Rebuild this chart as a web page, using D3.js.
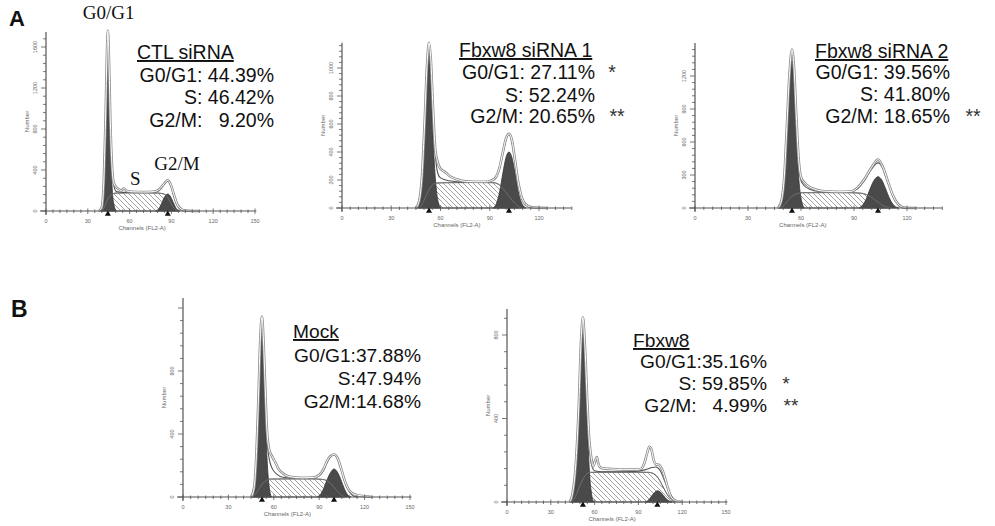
<!DOCTYPE html>
<html>
<head>
<meta charset="utf-8">
<script src="https://cdn.jsdelivr.net/npm/d3@7"></script>
<style>
    body { margin: 0; background: #fff; }
    svg { display: block; }
    .stat { font-family: "Liberation Sans", Arial, sans-serif; fill: #111; white-space: pre; }
    .title { text-decoration: underline; }
    .phase { font-family: "Liberation Serif", "Times New Roman", serif; fill: #111; }
    .tickLabel { font-family: "Liberation Sans", Arial, sans-serif; font-size: 5.5px; fill: #666; }
    .panelLetter { font-family: "Liberation Sans", Arial, sans-serif; font-weight: bold; fill: #111; }
</style>
</head>
<body>
<div id="svg-container"></div>
<script>
//--------------------------------------------------
// data (channel, count)
//--------------------------------------------------

// A - CTL siRNA
const ctlG1 = [[38,0],[40,30],[41.5,250],[42.7,750],[43.6,1300],[44.4,1700],[45.2,1300],[46.1,750],[47.2,300],[48.5,80],[50.5,0]];
const ctlS = [[40,0],[42,40],[44,105],[46,150],[48,168],[50,175],[60,177],[70,177],[80,175],[84,168],[87,140],[89,95],[91,45],[93,12],[95,0]];
const ctlG2 = [[79,0],[81,22],[83,75],[85,135],[87.4,166],[89.6,135],[91.6,75],[93.6,22],[96,0]];
const ctlFit = [[38,0],[40,30],[41.5,290],[42.7,850],[43.6,1410],[44.4,1720],[45.2,1440],[46.1,900],[47.2,460],[48.5,260],[50.5,190],[55,182],[65,180],[75,180],[80,188],[83,225],[85,265],[87.4,290],[89.6,245],[91.6,150],[93.6,70],[96,18],[99,0]];
const ctlRaw = [[38,0],[40,35],[41.5,300],[42.7,870],[43.6,1450],[44.4,1760],[45.2,1470],[46.1,920],[47.2,480],[48.5,280],[50,240],[52,215],[54,200],[56,220],[58,195],[62,188],[70,185],[78,190],[82,220],[85,270],[87.4,300],[88.5,285],[90,240],[92,150],[94,70],[97,20],[100,5],[110,0]];
const ctlPeaks = [44.4, 87.4];
const ctlText = ["CTL siRNA", "G0/G1: 44.39%", "S: 46.42%", "G2/M:   9.20%"];
const ctlStars = ["", "", ""];

// A - Fbxw8 siRNA 1
const si1G1 = [[45,0],[47,40],[48.8,200],[50.3,500],[51.8,880],[53,1120],[54.1,900],[55.4,520],[56.8,220],[58.3,60],[60,0]];
const si1S = [[47,0],[49,30],[51,80],[53,130],[55,163],[57,178],[65,181],[80,182],[92,181],[95,172],[98,140],[101,95],[104,50],[107,15],[109,0]];
const si1G2 = [[92,0],[94,30],[96,115],[98,250],[100,365],[101.7,400],[103.4,365],[105.4,250],[107.4,115],[109.4,35],[112,0]];
const si1Fit = [[45,0],[47,45],[48.8,225],[50.3,570],[51.8,1000],[53,1160],[54.1,1040],[55.4,690],[56.8,390],[58.3,250],[60,215],[65,195],[75,185],[88,185],[93,205],[96,285],[98,390],[100,490],[101.7,525],[103.4,480],[105.4,330],[107.4,170],[109.4,70],[112,20],[115,0]];
const si1Raw = [[45,0],[47,50],[48.8,240],[50.3,600],[51.8,1020],[53,1180],[54.1,1060],[55.4,720],[56.8,420],[58,340],[60,280],[63,255],[66,225],[70,205],[75,190],[80,188],[88,188],[93,210],[96,290],[98,400],[100,500],[101.7,530],[103.4,490],[105.4,340],[107.4,180],[109.4,80],[112,25],[116,5],[125,0]];
const si1Peaks = [53, 101.7];
const si1Text = ["Fbxw8 siRNA 1", "G0/G1: 27.11%", "S: 52.24%", "G2/M: 20.65%"];
const si1Stars = ["*", "", "**"];

// A - Fbxw8 siRNA 2
const si2G1 = [[47,0],[49,60],[50.6,260],[52,650],[53.5,1100],[54.9,1340],[56.1,1120],[57.3,700],[58.6,300],[60,90],[61.8,0]];
const si2S = [[48,0],[50,20],[52,55],[54,92],[56,118],[58,132],[61,139],[75,140],[88,139],[93,136],[97,122],[100,95],[103,60],[106,25],[109,5],[111,0]];
const si2G2 = [[93,0],[95,30],[97,85],[99,170],[101.5,255],[103.6,285],[105.7,255],[108,170],[110,90],[112,35],[115,0]];
const si2Fit = [[47,0],[49,65],[50.6,290],[52,720],[53.5,1190],[54.9,1400],[56.1,1230],[57.3,820],[58.6,430],[60,250],[62,200],[65,170],[70,150],[80,142],[88,145],[92,175],[96,250],[100,355],[103.6,410],[106,370],[109,240],[112,110],[115,30],[118,0]];
const si2Raw = [[47,0],[49,70],[50.6,300],[52,740],[53.5,1220],[54.9,1440],[56.1,1260],[57.3,850],[58.6,460],[60,280],[62,230],[64,200],[67,175],[72,155],[80,148],[88,150],[92,185],[96,265],[100,370],[103.6,440],[106,385],[109,250],[112,115],[115,35],[118,5],[125,0]];
const si2Peaks = [54.9, 103.6];
const si2Text = ["Fbxw8 siRNA 2", "G0/G1: 39.56%", "S: 41.80%", "G2/M: 18.65%"];
const si2Stars = ["", "", "**"];

// B - Mock
const mockG1 = [[45,0],[47,50],[48.5,230],[49.9,560],[51.1,900],[52.2,1050],[53.2,880],[54.3,560],[55.5,250],[57,60],[58.5,0]];
const mockS = [[46,0],[48,20],[50,48],[52,78],[54,98],[56,110],[58,114],[70,115],[85,115],[92,112],[95,104],[98,82],[101,48],[104,18],[107,0]];
const mockG2 = [[89,0],[91,18],[93,55],[95,105],[97.5,155],[99.8,178],[102,158],[104.5,105],[106.5,55],[108.5,18],[111,0]];
const mockFit = [[45,0],[47,55],[48.5,260],[49.9,620],[51.1,980],[52.2,1110],[53.2,960],[54.3,660],[55.5,370],[57,240],[59,180],[62,145],[66,125],[75,118],[85,118],[90,135],[93,170],[95,215],[97.5,255],[99.8,268],[102,245],[104.5,175],[107,95],[110,30],[113,5],[116,0]];
const mockRaw = [[45,0],[47,60],[48.5,270],[49.9,640],[51.1,1010],[52.2,1145],[53.2,990],[54.3,700],[55.5,420],[57,300],[59,255],[61,220],[63,180],[66,150],[70,130],[78,122],[86,124],[90,140],[93,180],[95,225],[97.5,260],[99.8,270],[102,250],[104.5,180],[107,100],[110,40],[114,15],[120,5],[125,0]];
const mockPeaks = [52.2, 99.8];
const mockText = ["Mock", "G0/G1:37.88%", "S:47.94%", "G2/M:14.68%"];
const mockStars = ["", "", ""];

// B - Fbxw8
const fbxG1 = [[43,0],[45,35],[47,140],[49,380],[50.8,700],[52,850],[53.2,700],[55,370],[56.5,140],[58,35],[59.5,0]];
const fbxS = [[44,0],[46,15],[48,45],[50,80],[52,110],[54,130],[57,142],[70,143],[85,143],[97,142],[100,137],[103,120],[106,85],[109,45],[112,15],[115,0]];
const fbxG2 = [[95,0],[97,10],[99,28],[101,45],[103,54],[105,48],[107,32],[109,16],[111,5],[113,0]];
const fbxFit = [[43,0],[45,40],[47,160],[49,420],[50.8,760],[52,880],[53.2,760],[55,460],[56.5,260],[58,175],[60,150],[65,145],[80,145],[90,148],[95,155],[99,165],[102,168],[105,150],[108,100],[111,50],[114,15],[117,0]];
const fbxRaw = [[43,0],[45,45],[47,170],[49,430],[50.8,780],[52,885],[53.2,770],[55,480],[56.3,300],[57,250],[58,200],[59,170],[60.5,200],[61.5,215],[62.5,185],[64,165],[67,160],[72,158],[80,155],[88,155],[92,160],[94,185],[96,235],[97.5,265],[99,250],[100.5,200],[102,180],[104,178],[106,160],[108,120],[110,70],[112,30],[115,8],[120,0]];
const fbxPeaks = [52, 103];
const fbxText = ["Fbxw8", "G0/G1:35.16%", "S: 59.85%", "G2/M:   4.99%"];
const fbxStars = ["", "*", "**"];

// tick labels
const xTicks150 = [0, 30, 60, 90, 120, 150];
const xTicks120 = [0, 30, 60, 90, 120];
const yTicksCtl = [0, 400, 800, 1200, 1600];
const yTicksSi1 = [0, 200, 400, 600, 800, 1000];
const yTicksSi2 = [0, 300, 600, 900, 1200];
const yTicksB = [0, 400, 800];

// phase names written over the CTL histogram: [label, channel, count]
const phaseLabels = [["G0/G1", 45, 1870], ["S", 64, 255], ["G2/M", 94, 400]];


//--------------------------------------------------
// panel layout
//--------------------------------------------------

const panels = [
    { g1: ctlG1, s: ctlS, g2: ctlG2, fit: ctlFit, raw: ctlRaw, peaks: ctlPeaks, text: ctlText, stars: ctlStars,
      xPx: [46, 255], xDom: [0, 150], xEnd: 151, xTicks: xTicks150, chanAt: 69,
      yPx: [211, 47], yDom: [0, 1600], yTop: 1746, yTicks: yTicksCtl,
      tx: 137, rx: 274, ty: [59, 82, 104, 127], fs: 19.5, starX: [0, 0, 0] },
    { g1: si1G1, s: si1S, g2: si1G2, fit: si1Fit, raw: si1Raw, peaks: si1Peaks, text: si1Text, stars: si1Stars,
      xPx: [342, 539], xDom: [0, 120], xEnd: 140, xTicks: xTicks120, chanAt: 70,
      yPx: [208, 68], yDom: [0, 1000], yTop: 1180, yTicks: yTicksSi1,
      tx: 459, rx: 595, ty: [57, 79, 102, 123], fs: 19.5, starX: [612, 0, 617] },
    { g1: si2G1, s: si2S, g2: si2G2, fit: si2Fit, raw: si2Raw, peaks: si2Peaks, text: si2Text, stars: si2Stars,
      xPx: [695, 907], xDom: [0, 120], xEnd: 140, xTicks: xTicks120, chanAt: 61,
      yPx: [208, 76], yDom: [0, 1200], yTop: 1500, yTicks: yTicksSi2,
      tx: 815, rx: 950, ty: [58, 79, 101, 123], fs: 19.5, starX: [0, 0, 973] },
    { g1: mockG1, s: mockS, g2: mockG2, fit: mockFit, raw: mockRaw, peaks: mockPeaks, text: mockText, stars: mockStars,
      xPx: [183, 410], xDom: [0, 150], xEnd: 151, xTicks: xTicks150, chanAt: 69,
      yPx: [497, 371], yDom: [0, 800], yTop: 1263, yTicks: yTicksB,
      tx: 293, rx: 421, ty: [338, 362, 385, 408], fs: 19.2, starX: [0, 0, 0] },
    { g1: fbxG1, s: fbxS, g2: fbxG2, fit: fbxFit, raw: fbxRaw, peaks: fbxPeaks, text: fbxText, stars: fbxStars,
      xPx: [507, 726], xDom: [0, 150], xEnd: 151, xTicks: xTicks150, chanAt: 72,
      yPx: [502, 335], yDom: [0, 800], yTop: 925, yTicks: yTicksB,
      tx: 633, rx: 767, ty: [347, 368, 390, 412], fs: 19.2, starX: [0, 786, 791] }
];


//--------------------------------------------------
// drawing
//--------------------------------------------------

const width = 995;
const height = 526;

let svg = d3.select("#svg-container")
    .append("svg")
    .attr("width", width)
    .attr("height", height);

// hatch for the S phase
svg.append("defs")
    .append("pattern")
    .attr("id", "hatch")
    .attr("patternUnits", "userSpaceOnUse")
    .attr("width", 5)
    .attr("height", 5)
    .append("path")
    .attr("d", "M-1,4 l2,2 M0,0 l5,5 M4,-1 l2,2")
    .attr("stroke", "#8a8a8a")
    .attr("stroke-width", 0.8);

panels.forEach(p => draw_histogram(p));

// panel letters
svg.append("text").attr("class", "panelLetter").attr("x", 9).attr("y", 26).style("font-size", "22px").text("A");
svg.append("text").attr("class", "panelLetter").attr("x", 11).attr("y", 317).style("font-size", "23px").text("B");

// phase labels in the first histogram
const firstX = d3.scaleLinear().domain(panels[0].xDom).range(panels[0].xPx);
const firstY = d3.scaleLinear().domain(panels[0].yDom).range(panels[0].yPx);
svg.selectAll(".phase")
    .data(phaseLabels)
    .enter()
    .append("text")
    .attr("class", "phase")
    .attr("x", d => firstX(d[1]))
    .attr("y", d => firstY(d[2]))
    .attr("text-anchor", "middle")
    .style("font-size", "19px")
    .text(d => d[0]);


function draw_histogram(p) {
    const x = d3.scaleLinear().domain(p.xDom).range(p.xPx);
    const y = d3.scaleLinear().domain(p.yDom).range(p.yPx);
    const g = svg.append("g");

    const area = d3.area()
        .x(d => x(d[0]))
        .y0(y(0))
        .y1(d => y(d[1]))
        .curve(d3.curveMonotoneX);
    const line = d3.line()
        .x(d => x(d[0]))
        .y(d => y(d[1]))
        .curve(d3.curveMonotoneX);

    // S phase (hatched)
    g.append("path").datum(p.s).attr("d", area)
        .attr("fill", "url(#hatch)")
        .attr("stroke", "#666")
        .attr("stroke-width", 1);

    // G0/G1 and G2/M peaks
    [p.g1, p.g2].forEach(d => {
        g.append("path").datum(d).attr("d", area)
            .attr("fill", "#4a4a4a")
            .attr("stroke", "#333")
            .attr("stroke-width", 0.8);
    });

    // S curve seen through the dark peaks
    g.append("path").datum(p.s).attr("d", line)
        .attr("fill", "none")
        .attr("stroke", "#777")
        .attr("stroke-width", 0.8);

    // fitted sum
    g.append("path").datum(p.fit).attr("d", line)
        .attr("fill", "none")
        .attr("stroke", "#555")
        .attr("stroke-width", 1.1);

    // raw data (outlined line)
    g.append("path").datum(p.raw).attr("d", line)
        .attr("fill", "none")
        .attr("stroke", "#8d8d8d")
        .attr("stroke-width", 2.6);
    g.append("path").datum(p.raw).attr("d", line)
        .attr("fill", "none")
        .attr("stroke", "#fff")
        .attr("stroke-width", 1);

    // axes
    const axisColor = "#555";
    const x0 = x(0), y0 = y(0);

    g.append("line")
        .attr("x1", x0 - 6).attr("x2", x(p.xEnd))
        .attr("y1", y0).attr("y2", y0)
        .attr("stroke", axisColor).attr("stroke-width", 1.2);
    g.append("line")
        .attr("x1", x0).attr("x2", x0)
        .attr("y1", y0 + 4).attr("y2", y(p.yTop))
        .attr("stroke", axisColor).attr("stroke-width", 1.2);

    // x ticks every 5 channels, larger at the labels
    const xMinor = d3.range(0, p.xEnd + 0.1, 5);
    g.selectAll(".xt").data(xMinor).enter().append("line")
        .attr("x1", d => x(d)).attr("x2", d => x(d))
        .attr("y1", d => y0 - (d % 30 === 0 ? 2.5 : 1.5))
        .attr("y2", d => y0 + (d % 30 === 0 ? 3 : 2))
        .attr("stroke", axisColor).attr("stroke-width", 0.8);
    g.selectAll(".xl").data(p.xTicks).enter().append("text")
        .attr("class", "tickLabel")
        .attr("x", d => x(d)).attr("y", y0 + 12)
        .attr("text-anchor", "middle")
        .text(d => d);
    g.append("text").attr("class", "tickLabel")
        .attr("x", x(p.chanAt)).attr("y", y0 + 19)
        .attr("text-anchor", "middle")
        .style("font-size", "6px")
        .text("Channels (FL2-A)");

    // y ticks, 5 per labelled step
    const yStep = p.yTicks[1] / 5;
    const yMinor = d3.range(0, p.yTop, yStep);
    g.selectAll(".yt").data(yMinor).enter().append("line")
        .attr("x1", (d, i) => x0 - (i % 5 === 0 ? 5 : 3)).attr("x2", x0)
        .attr("y1", d => y(d)).attr("y2", d => y(d))
        .attr("stroke", axisColor).attr("stroke-width", 0.8);
    g.selectAll(".yl").data(p.yTicks).enter().append("text")
        .attr("class", "tickLabel")
        .attr("transform", d => `translate(${x0 - 9},${y(d)}) rotate(-90)`)
        .attr("text-anchor", "middle")
        .text(d => d);
    g.append("text").attr("class", "tickLabel")
        .attr("transform", `translate(${x0 - 17},${(y0 + y(p.yTop)) / 2}) rotate(-90)`)
        .attr("text-anchor", "middle")
        .style("font-size", "6px")
        .text("Number");

    // peak markers under the axis
    g.selectAll(".peak").data(p.peaks).enter().append("path")
        .attr("d", d3.symbol().type(d3.symbolTriangle).size(16))
        .attr("transform", d => `translate(${x(d)},${y0 + 3})`)
        .attr("fill", "#111");

    // title and percentages
    g.append("text")
        .attr("class", "stat title")
        .attr("x", p.tx).attr("y", p.ty[0])
        .style("font-size", p.fs + "px")
        .text(p.text[0]);
    p.text.slice(1).forEach((t, i) => {
        g.append("text")
            .attr("class", "stat")
            .attr("x", p.rx).attr("y", p.ty[i + 1])
            .attr("text-anchor", "end")
            .style("font-size", p.fs + "px")
            .text(t);
        if (p.stars[i]) {
            g.append("text")
                .attr("class", "stat")
                .attr("x", p.starX[i]).attr("y", p.ty[i + 1])
                .attr("text-anchor", "middle")
                .style("font-size", p.fs + "px")
                .style("fill", "#333")
                .text(p.stars[i]);
        }
    });
}
</script>
</body>
</html>
